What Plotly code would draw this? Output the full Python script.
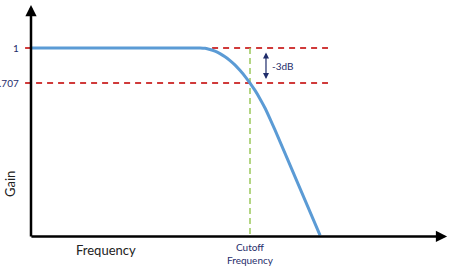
import plotly.graph_objects as go

# Normalised frequency (cutoff = 1) and gain of the low-pass response sketch
freq = [0.0, 0.772, 0.795, 0.817, 0.840, 0.863, 0.886, 0.909, 0.932, 0.954, 0.977,
        1.0, 1.023, 1.046, 1.069, 1.091, 1.114, 1.217, 1.320]
gain = [1.0, 1.0, 0.997, 0.988, 0.974, 0.953, 0.927, 0.895, 0.857, 0.813, 0.763,
        0.707, 0.645, 0.574, 0.496, 0.409, 0.315, -0.126, -0.568]

cutoff_freq = 1.0
ref_levels = [1.0, 0.707]
ref_labels = ["1", ".707"]
level_line_span = [-0.027, 1.356]
baseline = -0.577
axis_x_end = 1.90
axis_y_end = 1.36

navy = "#1f2d6b"
font_family = "Lato, 'Open Sans', sans-serif"

fig = go.Figure()

# reference dashed levels (1 and 0.707)
for lvl in ref_levels:
    fig.add_trace(go.Scatter(
        x=level_line_span, y=[lvl, lvl], mode="lines",
        line=dict(color="#d03a3a", width=2, dash="6px,5px"),
        hoverinfo="skip", showlegend=False))

# cutoff vertical dashed line
fig.add_trace(go.Scatter(
    x=[cutoff_freq, cutoff_freq], y=[ref_levels[0], baseline], mode="lines",
    line=dict(color="#9bc85a", width=1.5, dash="6px,4px"),
    hoverinfo="skip", showlegend=False))

# response curve
fig.add_trace(go.Scatter(
    x=freq, y=gain, mode="lines",
    line=dict(color="#5b9bd5", width=3, shape="spline", smoothing=0.3),
    hoverinfo="skip", showlegend=False))

annotations = []
# axes with arrow heads
annotations.append(dict(x=axis_x_end, y=baseline, ax=-0.005, ay=baseline,
                        xref="x", yref="y", axref="x", ayref="y", text="",
                        showarrow=True, arrowhead=2, arrowsize=0.9, arrowwidth=2.5,
                        arrowcolor="black"))
annotations.append(dict(x=0, y=axis_y_end, ax=0, ay=baseline - 0.012,
                        xref="x", yref="y", axref="x", ayref="y", text="",
                        showarrow=True, arrowhead=2, arrowsize=0.9, arrowwidth=2.5,
                        arrowcolor="black"))
# -3dB double arrow
annotations.append(dict(x=1.073, y=0.963, ax=1.073, ay=0.728,
                        xref="x", yref="y", axref="x", ayref="y", text="",
                        showarrow=True, arrowhead=2, startarrowhead=2,
                        arrowside="end+start", arrowsize=1, arrowwidth=1.2,
                        arrowcolor=navy))
annotations.append(dict(x=1.091, y=0.849, xref="x", yref="y", text="-3dB",
                        showarrow=False, xanchor="left", yanchor="middle",
                        font=dict(family=font_family, size=10, color=navy)))
# level labels
for lvl, lab in zip(ref_levels, ref_labels):
    annotations.append(dict(x=-0.044, y=lvl, xref="x", yref="y", text=lab,
                            showarrow=False, xanchor="right", yanchor="middle",
                            font=dict(family=font_family, size=10, color=navy)))
# axis titles
annotations.append(dict(x=0.343, y=baseline - 0.11, xref="x", yref="y", text="Frequency",
                        showarrow=False, xanchor="center", yanchor="middle",
                        font=dict(family=font_family, size=13, color="#222222")))
annotations.append(dict(x=-0.096, y=baseline + 0.439, xref="x", yref="y", text="Gain",
                        showarrow=False, xanchor="center", yanchor="middle", textangle=-90,
                        font=dict(family=font_family, size=13, color="#222222")))
annotations.append(dict(x=cutoff_freq, y=baseline - 0.145, xref="x", yref="y",
                        text="Cutoff<br>Frequency", showarrow=False,
                        xanchor="center", yanchor="middle",
                        font=dict(family=font_family, size=10, color=navy)))

fig.update_layout(
    width=451, height=278,
    margin=dict(l=0, r=0, t=0, b=0),
    paper_bgcolor="white", plot_bgcolor="white",
    xaxis=dict(range=[-0.14155, 1.9178], visible=False, fixedrange=True),
    yaxis=dict(range=[-0.9247, 1.4017], visible=False, fixedrange=True),
    annotations=annotations,
)

fig.write_html("out.html")
